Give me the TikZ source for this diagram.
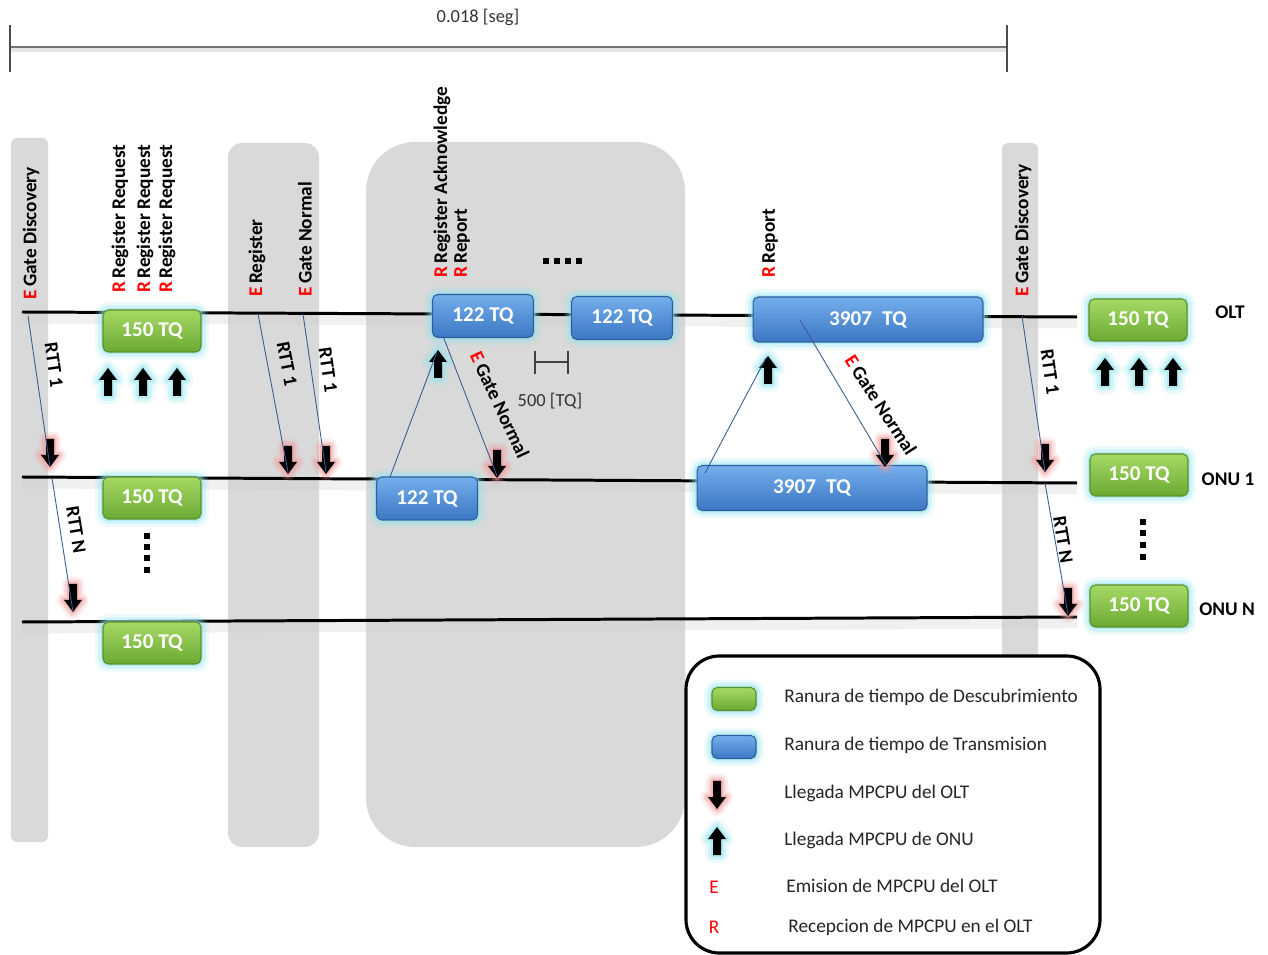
\documentclass[tikz,border=0pt]{standalone}
\usepackage{fontspec}
\setmainfont{Carlito}
\definecolor{bandgray}{HTML}{D9D9D9}
\definecolor{glowcyan}{HTML}{8FE3EE}
\definecolor{glowpink}{HTML}{F29A9A}
\definecolor{discTop}{HTML}{A6D965}
\definecolor{discBot}{HTML}{6BAA32}
\definecolor{discLine}{HTML}{5A8F28}
\definecolor{txTop}{HTML}{74AEEB}
\definecolor{txBot}{HTML}{3B77C4}
\definecolor{txLine}{HTML}{2E5F9C}
\definecolor{rttblue}{HTML}{3A5C92}
\newcommand\slotfont{\fontsize{12}{14}\selectfont\bfseries}
\newcommand\lblfont{\fontsize{11}{13}\selectfont\bfseries}
\newcommand\txtfont{\fontsize{11}{13}\selectfont}
\newcommand\redE{\textcolor{red}{E}\,}
\newcommand\redR{\textcolor{red}{R}\,}
\begin{document}
\begin{tikzpicture}[x=0.02cm,y=-0.02cm,
  band/.style={fill=bandgray,draw=none},
  glowc/.style={preaction={draw=glowcyan,line width=9pt,opacity=.16,line join=round},
                preaction={draw=glowcyan,line width=5.5pt,opacity=.28,line join=round},
                preaction={draw=glowcyan,line width=2.5pt,opacity=.45,line join=round}},
  glowr/.style={preaction={draw=glowpink,line width=8pt,opacity=.18,line join=round},
                preaction={draw=glowpink,line width=5pt,opacity=.3,line join=round},
                preaction={draw=glowpink,line width=2.2pt,opacity=.5,line join=round}},
  slot/.style={rounded corners=3pt,draw=#1,line width=.6pt,inner sep=0pt,text=white,font=\slotfont,glowc},
  disc/.style={slot=discLine,top color=discTop,bottom color=discBot,minimum width=1.96cm,minimum height=0.84cm},
  tx/.style={slot=txLine,top color=txTop,bottom color=txBot,minimum width=2.02cm,minimum height=0.86cm},
  timeline/.style={line width=1.7pt,black},
  lineshadow/.style={line width=6pt,black!20,opacity=.3},
  rtt/.style={rttblue,line width=.5pt},
  vlabel/.style={rotate=90,anchor=west,inner sep=0pt,font=\lblfont},
  rttlabel/.style={inner sep=0pt,font=\lblfont},
  legtext/.style={anchor=west,inner sep=0pt,font=\txtfont,text=black!85},
  uparr/.pic={\fill[black,glowc] (0,-14) -- (9,-2) -- (4,-2) -- (4,14) -- (-4,14) -- (-4,-2) -- (-9,-2) -- cycle;},
  dnarr/.pic={\fill[black,glowr] (0,14) -- (9,2) -- (4,2) -- (4,-14) -- (-4,-14) -- (-4,2) -- (-9,2) -- cycle;},
  dotsq/.pic={\fill[black] (-2.8,-2.8) rectangle (2.8,2.8);}
]
\useasboundingbox (0,0) rectangle (1268,955);

% shaded phases in the background
\fill[band,rounded corners=3.5pt] (11,138) rectangle (48,842);
\fill[band,rounded corners=8pt] (228,143) rectangle (319,847);
\fill[band,rounded corners=28pt] (366,142) rectangle (685,847);
\fill[band,rounded corners=3.5pt] (1002,143) rectangle (1038,842);

% cycle length scale
\coordinate (sc-l) at (10,47);
\coordinate (sc-r) at (1007,47);
\draw[line width=3pt,black!10] ([yshift=-1.5pt]sc-l) -- ([yshift=-1.5pt]sc-r);
\draw[line width=1.2pt,black!55] (sc-l) -- (sc-r);
\draw[line width=.6pt,black!70] (10,25) -- (10,72);
\draw[line width=.6pt,black!70] (1007,25) -- (1007,72);
\node[font=\fontsize{10.5}{12}\selectfont,text=black!80] (scale) at (478,17) {0.018 [seg]};

% time lines of OLT and ONUs
\coordinate (olt-l) at (22,312);  \coordinate (olt-r) at (1077,317);
\coordinate (onu1-l) at (22,477); \coordinate (onu1-r) at (1077,483);
\coordinate (onun-l) at (22,622); \coordinate (onun-r) at (1077,617);
\foreach \a/\b in {olt-l/olt-r,onu1-l/onu1-r,onun-l/onun-r}{
  \draw[lineshadow] ([yshift=-3.5pt]\a) -- ([yshift=-3.5pt]\b);
  \draw[timeline] (\a) -- (\b);
}

% discovery slots
\node[disc] (g-olt)   at (152,331) {150 TQ};
\node[disc] (g-onu1)  at (152,498) {150 TQ};
\node[disc] (g-onun)  at (152,643) {150 TQ};
\node[disc] (g-olt-r)  at (1138,320) {150 TQ};
\node[disc] (g-onu1-r) at (1139,475) {150 TQ};
\node[disc] (g-onun-r) at (1139,606) {150 TQ};

% transmission slots
\node[tx] (t-olt1) at (483,316) {122 TQ};
\node[tx] (t-olt2) at (622,318) {122 TQ};
\node[tx,minimum width=4.6cm,minimum height=0.9cm] (t-olt3) at (868,319.5) {3907\enspace TQ};
\node[tx] (t-onu1) at (427,498.5) {122 TQ};
\node[tx,minimum width=4.6cm,minimum height=0.9cm] (t-onu2) at (812,488) {3907\enspace TQ};

% arrivals at the OLT
\foreach \x in {108,143,177} \pic at (\x,382) {uparr};
\foreach \x in {1105,1139,1173} \pic at (\x,372) {uparr};
\pic at (438,364) {uparr};
\pic at (768,370) {uparr};

% arrivals at the ONUs
\pic at (50,453) {dnarr};
\pic at (73,598) {dnarr};
\pic at (288,460) {dnarr};
\pic at (326,460) {dnarr};
\pic at (497,464) {dnarr};
\pic at (885,453) {dnarr};
\pic at (1045,458) {dnarr};
\pic at (1068,602) {dnarr};

% propagation paths
\coordinate (a1) at (28,316);   \coordinate (a2) at (50,467);
\coordinate (a3) at (52,478);   \coordinate (a4) at (73,612);
\coordinate (b1) at (258,314);  \coordinate (b2) at (288,472);
\coordinate (c1) at (303,314);  \coordinate (c2) at (326,472);
\coordinate (d1) at (390,477);  \coordinate (d2) at (437,352);
\coordinate (e1) at (443,336);  \coordinate (e2) at (497,476);
\coordinate (f1) at (705,473);  \coordinate (f2) at (766,358);
\coordinate (g1) at (800,320);  \coordinate (g2) at (886,465);
\coordinate (h1) at (1022,316); \coordinate (h2) at (1045,472);
\coordinate (k1) at (1045,483); \coordinate (k2) at (1068,614);
\foreach \p/\q in {a1/a2,a3/a4,b1/b2,c1/c2,d1/d2,e1/e2,f1/f2,g1/g2,h1/h2,k1/k2}
  \draw[rtt] (\p) -- (\q);

\node[rttlabel,rotate=-82] (r1) at (54,365) {RTT 1};
\node[rttlabel,rotate=-81] (r2) at (76,530) {RTT N};
\node[rttlabel,rotate=-79] (r3) at (287,364) {RTT 1};
\node[rttlabel,rotate=-82] (r4) at (328,370) {RTT 1};
\node[rttlabel,rotate=-82] (r5) at (1050,372) {RTT 1};
\node[rttlabel,rotate=-81] (r6) at (1063,540) {RTT N};
\node[rttlabel,rotate=-65] (gn1) at (500,405) {\redE Gate Normal};
\node[rttlabel,rotate=-57] (gn2) at (881,405) {\redE Gate Normal};

% control messages
\node[vlabel] (m1) at (31,300) {\redE Gate Discovery};
\node[vlabel] (m2) at (120,293) {\redR Register Request};
\node[vlabel] (m3) at (145,293) {\redR Register Request};
\node[vlabel] (m4) at (167,293) {\redR Register Request};
\node[vlabel] (m5) at (257,297) {\redE Register};
\node[vlabel] (m6) at (305,297) {\redE Gate Normal};
\node[vlabel] (m7) at (442,278) {\redR Register Acknowledge};
\node[vlabel] (m8) at (462,278) {\redR Report};
\node[vlabel] (m9) at (770,278) {\redR Report};
\node[vlabel] (m10) at (1023,297) {\redE Gate Discovery};

% ellipses
\foreach \x in {546,557,568,579} \pic at (\x,261) {dotsq};
\foreach \y in {536,547,558,570} \pic at (147,\y) {dotsq};
\foreach \y in {522,533,545,557} \pic at (1143,\y) {dotsq};

% guard interval
\draw[line width=.6pt,black!75] (535,351) -- (535,374) (568,351) -- (568,374) (535,362) -- (568,362);
\node[font=\fontsize{10.5}{12}\selectfont,text=black!80] (guard) at (550,401) {500 [TQ]};

% station names
\node[font=\lblfont] (n-olt) at (1230,312) {OLT};
\node[font=\lblfont] (n-onu1) at (1228,479) {ONU 1};
\node[font=\lblfont] (n-onun) at (1227,609) {ONU N};

% legend
\draw[line width=1.8pt,rounded corners=19pt,fill=white] (686,656) rectangle (1100,953);
\node[disc,minimum width=0.88cm,minimum height=0.46cm] (k-disc) at (734,699) {};
\node[tx,minimum width=0.88cm,minimum height=0.46cm] (k-tx) at (734,747) {};
\pic at (717,795) {dnarr};
\pic at (717,841) {uparr};
\node[font=\txtfont,text=red] (k-e) at (714,887) {E};
\node[font=\txtfont,text=red] (k-r) at (714,927) {R};
\node[legtext] (k1) at (784,697) {Ranura de tiempo de Descubrimiento};
\node[legtext] (k2) at (784,745) {Ranura de tiempo de Transmision};
\node[legtext] (k3) at (784,793) {Llegada MPCPU del OLT};
\node[legtext] (k4) at (784,840) {Llegada MPCPU de ONU};
\node[legtext] (k5) at (786,886) {Emision de MPCPU del OLT};
\node[legtext] (k6) at (788,927) {Recepcion de MPCPU en el OLT};
\end{tikzpicture}
\end{document}
